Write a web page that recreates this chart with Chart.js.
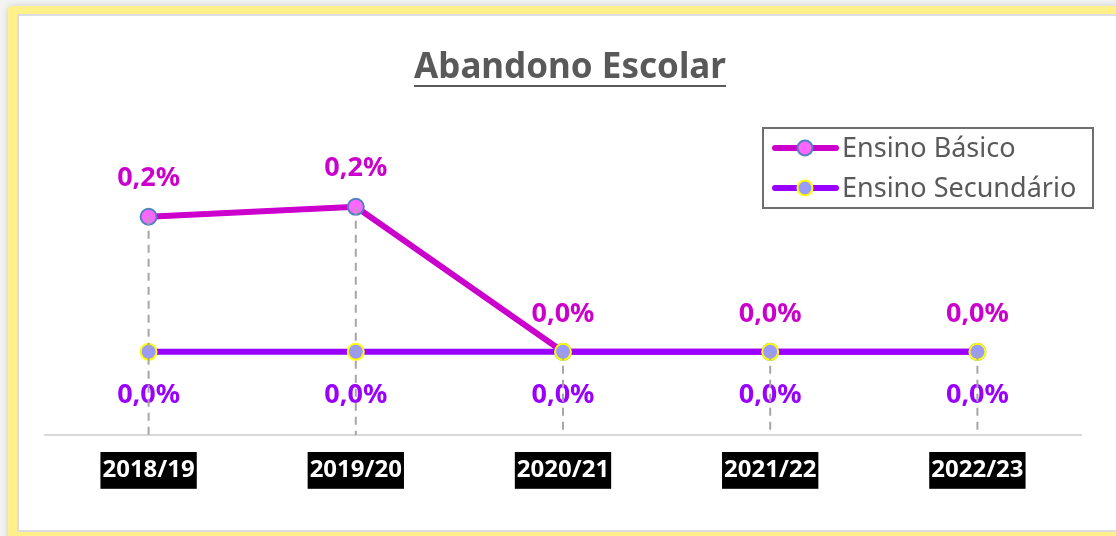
<!DOCTYPE html>
<html lang="pt">
<head>
<meta charset="UTF-8">
<title>Abandono Escolar</title>
<script src="https://cdn.jsdelivr.net/npm/chart.js@4.4.1/dist/chart.umd.min.js"></script>
<style>
  html, body { margin: 0; padding: 0; width: 1116px; height: 536px; overflow: hidden; background: #f3f3f3; }
  .moldura { position: absolute; left: 8px; top: 6px; width: 1300px; height: 600px; background: #fff08a;
             border-radius: 4px 0 0 0; box-shadow: 0 0 7px rgba(0, 0, 0, 0.16); }
  .painel { position: absolute; left: 9px; top: 8px; width: 1250px; height: 514px; background: #fff;
            border: 2px solid #dcdce3; }
  #grafico { position: absolute; left: 0; top: 0; }
</style>
</head>
<body>
<div class="moldura"><div class="painel"></div></div>
<canvas id="grafico" width="1116" height="536"></canvas>

<script>
  // Dados (taxa de abandono, %)
  const anos = ['2018/19', '2019/20', '2020/21', '2021/22', '2022/23'];
  const ensinoBasico = [0.19, 0.204, 0, 0, 0];
  const ensinoSecundario = [0, 0, 0, 0, 0];

  const fonte = "'Noto Sans', sans-serif";
  const formatar = v => v.toFixed(1).replace('.', ',') + '%';

  // Título sublinhado
  const tituloPlugin = {
    id: 'tituloSublinhado',
    afterDraw(chart) {
      const ctx = chart.ctx;
      const texto = 'Abandono Escolar';
      ctx.save();
      ctx.font = 'bold 35px ' + fonte;
      ctx.fillStyle = '#595959';
      ctx.textAlign = 'center';
      ctx.textBaseline = 'alphabetic';
      const x = 570, y = 78;
      ctx.fillText(texto, x, y);
      const w = ctx.measureText(texto).width;
      ctx.fillRect(x - w / 2, y + 7, w, 2);
      ctx.restore();
    }
  };

  // Rótulos de valor: Básico por cima, Secundário por baixo
  const rotulosPlugin = {
    id: 'rotulos',
    afterDatasetsDraw(chart) {
      const ctx = chart.ctx;
      ctx.save();
      ctx.font = 'bold 27px ' + fonte;
      ctx.textAlign = 'center';
      ctx.textBaseline = 'middle';
      chart.data.datasets.forEach((ds, i) => {
        const meta = chart.getDatasetMeta(i);
        ctx.fillStyle = ds.borderColor;
        meta.data.forEach((pt, j) => {
          const dy = i === 0 ? -38 : 43;
          ctx.fillText(formatar(ds.data[j]), pt.x, pt.y + dy);
        });
      });
      ctx.restore();
    }
  };

  // Linhas verticais tracejadas desde o ponto mais alto até ao eixo
  const linhasQuedaPlugin = {
    id: 'linhasQueda',
    afterDatasetsDraw(chart) {
      const ctx = chart.ctx;
      const area = chart.chartArea;
      const metas = chart.data.datasets.map((d, i) => chart.getDatasetMeta(i));
      ctx.save();
      ctx.strokeStyle = '#a6a6a6';
      ctx.lineWidth = 2;
      ctx.setLineDash([8, 6]);
      anos.forEach((a, j) => {
        const topo = Math.min(...metas.map(m => m.data[j].y));
        const x = metas[0].data[j].x;
        ctx.beginPath();
        ctx.moveTo(x, topo);
        ctx.lineTo(x, area.bottom);
        ctx.stroke();
      });
      ctx.restore();
    }
  };

  // Legenda com caixa
  const legendaPlugin = {
    id: 'legendaCaixa',
    afterDraw(chart) {
      const ctx = chart.ctx;
      const bx = 763, by = 128, bw = 330, bh = 80;
      ctx.save();
      ctx.strokeStyle = '#6f6f6f';
      ctx.lineWidth = 2;
      ctx.strokeRect(bx, by, bw, bh);
      ctx.font = '27px ' + fonte;
      ctx.textBaseline = 'middle';
      ctx.textAlign = 'left';
      chart.data.datasets.forEach((ds, i) => {
        const y = 148 + i * 40;
        ctx.strokeStyle = ds.borderColor;
        ctx.lineWidth = 6;
        ctx.lineCap = 'round';
        ctx.beginPath();
        ctx.moveTo(775, y);
        ctx.lineTo(836, y);
        ctx.stroke();
        ctx.beginPath();
        ctx.arc(805, y, 7.5, 0, Math.PI * 2);
        ctx.fillStyle = ds.pointBackgroundColor;
        ctx.fill();
        ctx.lineWidth = 2;
        ctx.strokeStyle = ds.pointBorderColor;
        ctx.stroke();
        ctx.fillStyle = '#595959';
        ctx.fillText(ds.label, 842, y + 1);
      });
      ctx.restore();
    }
  };

  new Chart(document.getElementById('grafico'), {
    type: 'line',
    data: {
      labels: anos,
      datasets: [
        {
          label: 'Ensino Básico',
          data: ensinoBasico,
          borderColor: '#cc00cc',
          borderWidth: 6,
          pointRadius: 8,
          pointBackgroundColor: '#ff66ff',
          pointBorderColor: '#4f81bd',
          pointBorderWidth: 2,
          tension: 0,
          order: 1
        },
        {
          label: 'Ensino Secundário',
          data: ensinoSecundario,
          borderColor: '#9900ff',
          borderWidth: 6,
          pointRadius: 8,
          pointBackgroundColor: '#9999ff',
          pointBorderColor: '#ffff00',
          pointBorderWidth: 2,
          tension: 0,
          order: 0
        }
      ]
    },
    options: {
      responsive: false,
      animation: false,
      layout: { padding: { left: 45, right: 35, top: 103, bottom: 0 } },
      plugins: {
        legend: { display: false },
        title: { display: false },
        tooltip: { enabled: false }
      },
      scales: {
        x: {
          offset: true,
          grid: { display: false, drawTicks: false },
          border: { display: true, color: '#d9d9d9', width: 2 },
          ticks: {
            color: '#ffffff',
            font: { family: fonte, size: 24, weight: 'bold' },
            padding: 21,
            showLabelBackdrop: true,
            backdropColor: '#000000',
            backdropPadding: { x: 2, y: 4 },
            maxRotation: 0
          },
          afterFit(scale) { scale.height = 101; }
        },
        y: {
          display: false,
          min: -0.117,
          max: 0.35
        }
      }
    },
    plugins: [tituloPlugin, rotulosPlugin, linhasQuedaPlugin, legendaPlugin]
  });
</script>
</body>
</html>
